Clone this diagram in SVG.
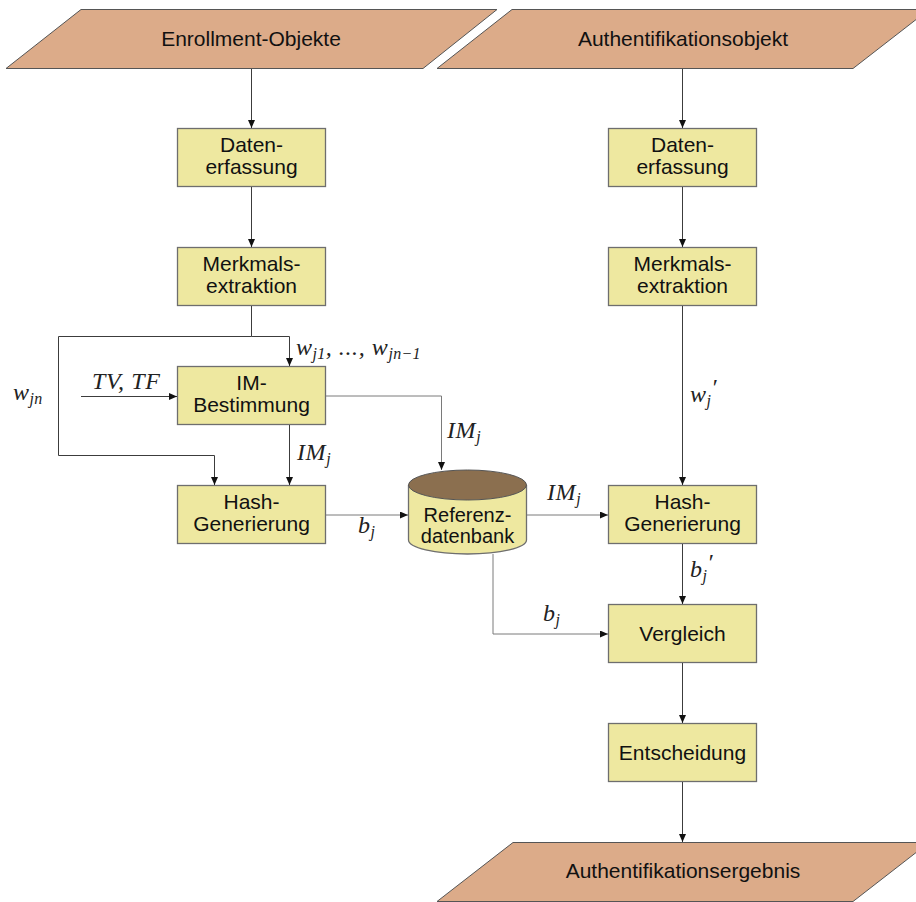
<svg xmlns="http://www.w3.org/2000/svg" width="916" height="902" viewBox="0 0 916 902">
  <style>
    .io { fill: #dcab89; stroke: #555; stroke-width: 1; }
    .box { fill: #eee8a0; stroke: #6e6e6e; stroke-width: 1.3; }
    .lbl { font-family: "Liberation Sans", Arial, sans-serif; font-size: 21px; fill: #111; text-anchor: middle; }
    .db { font-size: 20px; }
    .math { font-family: "Liberation Serif", "Times New Roman", serif; font-style: italic; font-size: 24px; fill: #222; letter-spacing: 0.6px; }
    .sub { font-size: 16px; letter-spacing: 0.3px; }
    .wire { fill: none; stroke: #3c3c3c; stroke-width: 1; }
    .wire.soft { stroke: #7a7a7a; }
  </style>
  <defs>
    <marker id="arr" markerWidth="8" markerHeight="7" refX="8" refY="3.5" orient="auto" markerUnits="userSpaceOnUse">
      <path d="M0,0 L8,3.5 L0,7 Z" fill="#111"/>
    </marker>
  </defs>

  <rect width="916" height="902" fill="#fff"/>

  <!-- input / output parallelograms -->
  <g id="enrollment-objekte">
    <polygon class="io" points="81,9.5 497,9.5 423,68.5 6,68.5"/>
    <text class="lbl" x="251" y="46">Enrollment-Objekte</text>
  </g>
  <g id="authentifikationsobjekt">
    <polygon class="io" points="512,9.5 929,9.5 853,68.5 437,68.5"/>
    <text class="lbl" x="683" y="46">Authentifikationsobjekt</text>
  </g>
  <g id="authentifikationsergebnis">
    <polygon class="io" points="513,842.5 929,842.5 853,901.5 437,901.5"/>
    <text class="lbl" x="683" y="878">Authentifikationsergebnis</text>
  </g>

  <!-- enrollment column -->
  <g id="datenerfassung-e">
    <rect class="box" x="177.5" y="128.5" width="148" height="58"/>
    <text class="lbl" x="251.5" y="152">Daten-</text>
    <text class="lbl" x="251.5" y="174">erfassung</text>
  </g>
  <g id="merkmalsextraktion-e">
    <rect class="box" x="177.5" y="247.5" width="148" height="58"/>
    <text class="lbl" x="251.5" y="271">Merkmals-</text>
    <text class="lbl" x="251.5" y="293">extraktion</text>
  </g>
  <g id="im-bestimmung">
    <rect class="box" x="177.5" y="366.5" width="148" height="58"/>
    <text class="lbl" x="251.5" y="390">IM-</text>
    <text class="lbl" x="251.5" y="412">Bestimmung</text>
  </g>
  <g id="hash-generierung-e">
    <rect class="box" x="177.5" y="485.5" width="148" height="58"/>
    <text class="lbl" x="251.5" y="509">Hash-</text>
    <text class="lbl" x="251.5" y="531">Generierung</text>
  </g>

  <!-- reference database -->
  <g id="referenzdatenbank">
    <path class="box" d="M408.5,485 V540 A59,14 0 0 0 526.5,540 V485"/>
    <ellipse cx="467.5" cy="485" rx="59" ry="15" fill="#8b6f4f" stroke="#555" stroke-width="1"/>
    <text class="lbl db" x="467.5" y="522">Referenz-</text>
    <text class="lbl db" x="467.5" y="543">datenbank</text>
  </g>

  <!-- authentication column -->
  <g id="datenerfassung-a">
    <rect class="box" x="608.5" y="128.5" width="148" height="58"/>
    <text class="lbl" x="682.5" y="152">Daten-</text>
    <text class="lbl" x="682.5" y="174">erfassung</text>
  </g>
  <g id="merkmalsextraktion-a">
    <rect class="box" x="608.5" y="247.5" width="148" height="58"/>
    <text class="lbl" x="682.5" y="271">Merkmals-</text>
    <text class="lbl" x="682.5" y="293">extraktion</text>
  </g>
  <g id="hash-generierung-a">
    <rect class="box" x="608.5" y="485.5" width="148" height="58"/>
    <text class="lbl" x="682.5" y="509">Hash-</text>
    <text class="lbl" x="682.5" y="531">Generierung</text>
  </g>
  <g id="vergleich">
    <rect class="box" x="608.5" y="604.5" width="148" height="58"/>
    <text class="lbl" x="682.5" y="641">Vergleich</text>
  </g>
  <g id="entscheidung">
    <rect class="box" x="608.5" y="723.5" width="148" height="58"/>
    <text class="lbl" x="682.5" y="760">Entscheidung</text>
  </g>

  <!-- connectors -->
  <g id="connectors">
    <path class="wire" d="M251.5,69 V128" marker-end="url(#arr)"/>
    <path class="wire" d="M251.5,187 V247" marker-end="url(#arr)"/>
    <path class="wire" d="M251.5,306 V336.5 H289.5 V366" marker-end="url(#arr)"/>
    <path class="wire" d="M251.5,336.5 H58.5 V455.5 H214.5 V485" marker-end="url(#arr)"/>
    <path class="wire" d="M81,396.5 H177" marker-end="url(#arr)"/>
    <path class="wire" d="M289.5,425 V485" marker-end="url(#arr)"/>
    <path class="wire soft" d="M326,396 H441.5 V470" marker-end="url(#arr)"/>
    <path class="wire soft" d="M326,515 H408" marker-end="url(#arr)"/>
    <path class="wire soft" d="M527,515 H608" marker-end="url(#arr)"/>
    <path class="wire soft" d="M493,554 V634 H608" marker-end="url(#arr)"/>

    <path class="wire" d="M682.5,69 V128" marker-end="url(#arr)"/>
    <path class="wire" d="M682.5,187 V247" marker-end="url(#arr)"/>
    <path class="wire" d="M682.5,306 V485" marker-end="url(#arr)"/>
    <path class="wire" d="M682.5,544 V604" marker-end="url(#arr)"/>
    <path class="wire" d="M682.5,663 V723" marker-end="url(#arr)"/>
    <path class="wire" d="M682.5,782 V842" marker-end="url(#arr)"/>
  </g>

  <!-- connector labels -->
  <g id="labels">
    <text class="math" x="296" y="355">w<tspan class="sub" dy="4">j1</tspan><tspan dy="-4">, ..., w</tspan><tspan class="sub" dy="4">jn−1</tspan></text>
    <text class="math" x="13" y="400">w<tspan class="sub" dy="4">jn</tspan></text>
    <text class="math" x="92" y="389">TV, TF</text>
    <text class="math" x="297" y="460">IM<tspan class="sub" dy="4">j</tspan></text>
    <text class="math" x="447" y="438">IM<tspan class="sub" dy="4">j</tspan></text>
    <text class="math" x="358" y="533">b<tspan class="sub" dy="4">j</tspan></text>
    <text class="math" x="547" y="500">IM<tspan class="sub" dy="4">j</tspan></text>
    <text class="math" x="543" y="621">b<tspan class="sub" dy="4">j</tspan></text>
    <text class="math" x="690" y="402">w<tspan class="sub" dy="4">j</tspan><tspan dy="-11">′</tspan></text>
    <text class="math" x="690" y="577">b<tspan class="sub" dy="4">j</tspan><tspan dy="-11">′</tspan></text>
  </g>
</svg>
